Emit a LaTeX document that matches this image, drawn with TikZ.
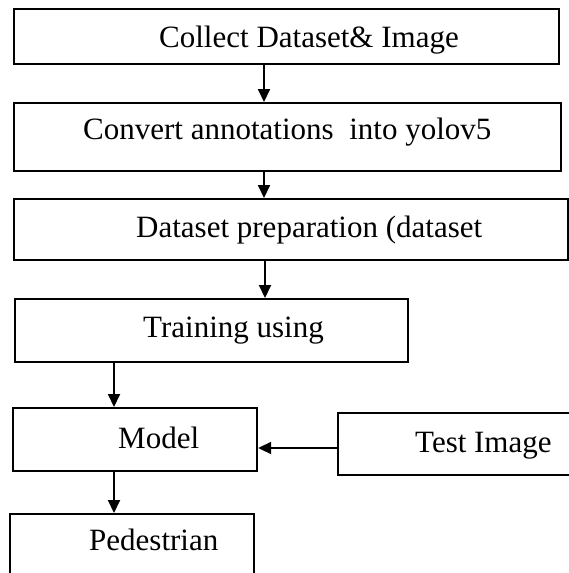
\documentclass[tikz,border=0pt]{standalone}
\usepackage{fontspec}
\setmainfont{Liberation Serif}
\usetikzlibrary{arrows.meta}
\tikzset{
  box/.style={draw=black, line width=2.2pt, fill=white, inner sep=0pt, anchor=north west},
  lbl/.style={anchor=base west, inner sep=0pt, font=\fontsize{31}{37}\selectfont},
  arr/.style={line width=2pt, -{Triangle[length=13pt,width=12pt]}}
}
\begin{document}
\begin{tikzpicture}[x=1pt,y=-1pt]
\useasboundingbox (0,0) rectangle (569,573);
\clip (0,0) rectangle (569,573);
% boxes
\node[box, minimum width=545pt, minimum height=55pt] (b1) at (13,8) {};
\node[box, minimum width=547pt, minimum height=68pt] (b2) at (13,102) {};
\node[box, minimum width=554pt, minimum height=61pt] (b3) at (13,198) {};
\node[box, minimum width=393pt, minimum height=63pt] (b4) at (14,298) {};
\node[box, minimum width=244pt, minimum height=63pt] (model) at (12,407) {};
\node[box, minimum width=250pt, minimum height=62pt] (test) at (337,412) {};
\node[box, minimum width=244pt, minimum height=80pt] (ped) at (9,513) {};
% texts
\node[lbl] at (159,47) {Collect Dataset\& Image};
\node[lbl] at (83,139) {Convert annotations~\ into yolov5};
\node[lbl] at (136,237) {Dataset preparation (dataset};
\node[lbl] at (143,337) {Training using};
\node[lbl] at (118,448) {Model};
\node[lbl] at (415,452) {Test Image};
\node[lbl] at (89,550) {Pedestrian};
% connectors
\draw[arr] (b1.south west -| 264,0) -- (b2.north west -| 264,0);
\draw[arr] (b2.south west -| 264,0) -- (b3.north west -| 264,0);
\draw[arr] (b3.south west -| 265,0) -- (b4.north west -| 265,0);
\draw[arr] (b4.south west -| 114,0) -- (model.north west -| 114,0);
\draw[arr] (model.south west -| 114,0) -- (ped.north west -| 114,0);
\draw[arr] (test.west |- 0,448) -- (model.east |- 0,448);
\end{tikzpicture}
\end{document}
